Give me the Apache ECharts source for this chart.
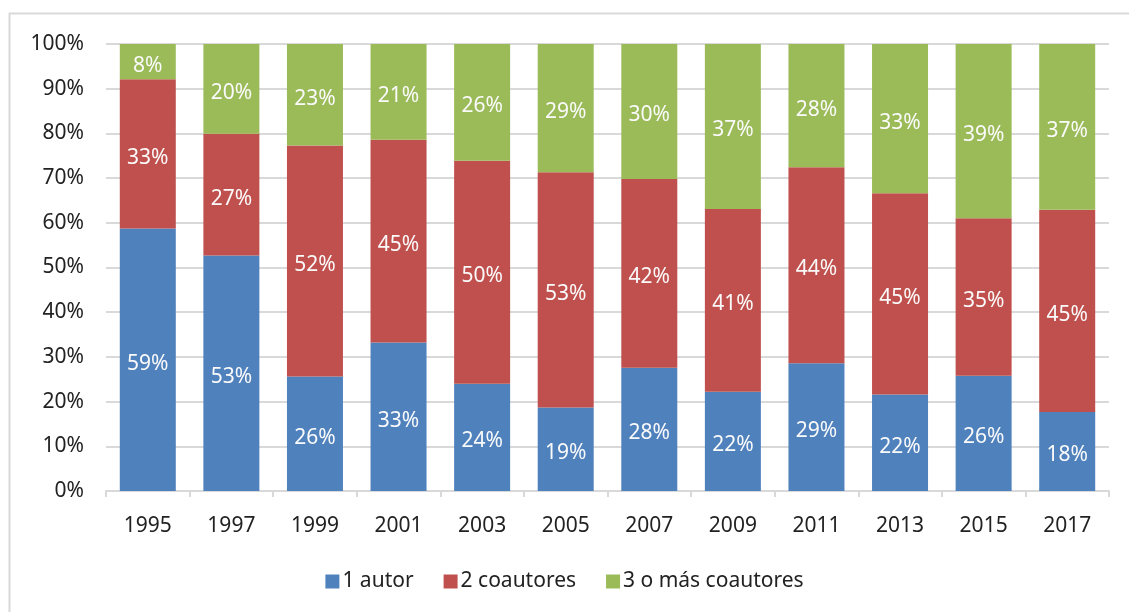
<!DOCTYPE html>
<html>
<head>
<meta charset="utf-8">
<script src="https://cdn.jsdelivr.net/npm/echarts@6/dist/echarts.min.js"></script>
<style>
  html, body { margin: 0; padding: 0; background: #fff; }
  #chart { width: 1129px; height: 612px; }
</style>
</head>
<body>
<div id="chart"></div>
<script>
// años (eje x)
const years = ["1995", "1997", "1999", "2001", "2003", "2005", "2007", "2009", "2011", "2013", "2015", "2017"];
// porcentaje de artículos por número de autores
const oneAuthor = [58.7, 52.7, 25.6, 33.2, 24.0, 18.7, 27.6, 22.2, 28.6, 21.6, 25.8, 17.7];
const twoCoauthors = [33.4, 27.2, 51.7, 45.4, 49.9, 52.6, 42.2, 40.9, 43.8, 45.0, 35.2, 45.2];
const threePlus = [7.9, 20.1, 22.7, 21.4, 26.1, 28.7, 30.2, 36.9, 27.6, 33.4, 39.0, 37.1];
const seriesNames = ["1 autor", "2 coautores", "3 o más coautores"];
const colors = ["#4F81BD", "#C0504D", "#9BBB59"];

const FONT = "'Noto Sans', 'Open Sans', sans-serif";

const chart = echarts.init(document.getElementById("chart"));

const makeSeries = (name, data, color) => ({
  name,
  type: "bar",
  stack: "total",
  data,
  barWidth: 56,
  itemStyle: { color },
  label: {
    show: true,
    position: "inside",
    offset: [0, 4],
    color: "#fafafa",
    fontFamily: FONT,
    fontSize: 21,
    formatter: (p) => Math.round(p.value) + "%",
  },
});

chart.setOption({
  animation: false,
  textStyle: { fontFamily: FONT },
  graphic: [
    {
      type: "rect",
      shape: { x: 9.5, y: 13.5, width: 1130, height: 620 },
      style: { fill: "none", stroke: "#D9D9D9", lineWidth: 2 },
      silent: true,
    },
  ],
  grid: { left: 106, right: 20, top: 44, bottom: 121 },
  legend: {
    bottom: 15,
    left: "center",
    itemWidth: 14,
    itemHeight: 14,
    itemGap: 30,
    icon: "rect",
    textStyle: { fontSize: 21, color: "#222", fontFamily: FONT, padding: [0, 0, 0, -2] },
    data: seriesNames,
  },
  xAxis: {
    type: "category",
    data: years,
    axisLine: { lineStyle: { color: "#D9D9D9", width: 2 } },
    axisTick: { show: true, length: 6, lineStyle: { color: "#D9D9D9", width: 2 } },
    axisLabel: { color: "#222", fontSize: 21, margin: 25, fontFamily: FONT },
  },
  yAxis: {
    type: "value",
    min: 0,
    max: 100,
    interval: 10,
    axisLine: { show: false },
    axisTick: { show: false },
    splitLine: { lineStyle: { color: "#D9D9D9", width: 2 } },
    axisLabel: { color: "#222", fontSize: 21, margin: 22, fontFamily: FONT, formatter: "{value}%" },
  },
  series: [
    makeSeries(seriesNames[0], oneAuthor, colors[0]),
    makeSeries(seriesNames[1], twoCoauthors, colors[1]),
    makeSeries(seriesNames[2], threePlus, colors[2]),
  ],
});
</script>
</body>
</html>
